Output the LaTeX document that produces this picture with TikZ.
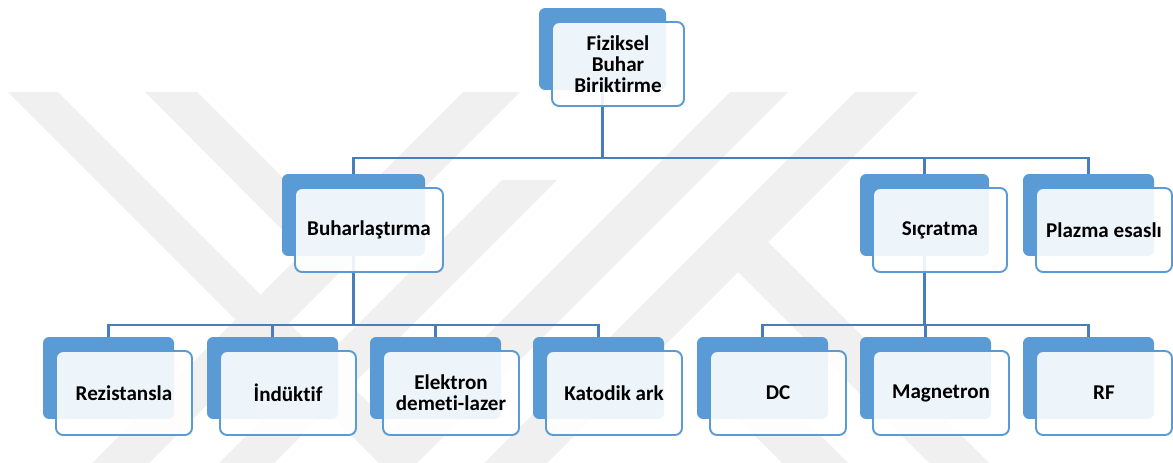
\documentclass[tikz,border=0pt]{standalone}
\usepackage{fontspec}
\setmainfont{Carlito}[Ligatures=NoCommon]
\definecolor{boxblue}{HTML}{5B9BD5}
\definecolor{linkblue}{HTML}{4A7EBB}
\definecolor{wmark}{HTML}{F0F0F0}
\pgfdeclarelayer{bg}
\pgfsetlayers{bg,main}
\begin{document}
\begin{tikzpicture}[x=0.02cm, y=-0.02cm, line join=round,
 backbox/.style={fill=boxblue, rounded corners=3.5pt, minimum height=1.64cm, inner sep=0pt},
 frontbox/.style={draw=boxblue, line width=1.1pt, fill=white, fill opacity=0.9, text opacity=1, rounded corners=4pt, minimum height=1.68cm, inner sep=1pt, align=center, font=\fontsize{12}{12}\selectfont\bfseries},
 link/.style={draw=linkblue, line width=1.25pt},
 wm/.style={fill=wmark}]
 \useasboundingbox (0,0) rectangle (1173,463);
 % front box centres and widths, the back box sits up and to the left
 \foreach \nm/\x/\y/\w/\txt in {fbb/618/64/132/{Fiziksel\\Buhar\\Biriktirme},
  buh/369/230/148/Buharlaştırma, sic/940/230/134/Sıçratma, plz/1104/230/136/Plazma esaslı,
  rez/124/393/136/Rezistansla, ind/288/393/136/İndüktif, ele/451/393/136/{Elektron\\demeti-lazer},
  kat/614/393/136/Katodik ark, dc/778/393/136/DC, mag/941/393/136/Magnetron, rf/1104/393/136/RF}
 {\node[backbox, minimum width=(\w-5)*0.02cm] (\nm-b) at (\x-15.5,\y-15) {};
  \node[frontbox, minimum width=\w*0.02cm] (\nm) at (\x,\y) {\txt};}
 \begin{pgfonlayer}{bg}
 \begin{scope}
 \clip (0,0) rectangle (1173,463);
 \fill[wm] (8,92) -- (58,92) -- (394,428) -- (730,92) -- (788,92) -- (398,482) -- cycle;
 \fill[wm] (145,92) -- (197,92) -- (330,225) -- (332,280) -- cycle;
 \fill[wm] (463,92) -- (520,92) -- (149,463) -- (92,463) -- cycle;
 \fill[wm] (502,180) -- (557,180) -- (274,463) -- (219,463) -- cycle;
 \fill[wm] (855,92) -- (918,92) -- (547,463) -- (484,463) -- cycle;
 \fill[wm] (756,230) -- (989,463) -- (929,463) -- (726,260) -- cycle;
 \fill[wm] (735,350) -- (848,463) -- (782,463) -- (702,383) -- cycle;
 \end{scope}
 \draw[link] (fbb-b.south) -- ++(0,68) coordinate (j1);
 \draw[link] (buh-b.north) |- (j1) -| (plz-b.north);
 \draw[link] (sic-b.north) -- (sic-b.north |- j1);
 \draw[link] (buh-b.south) -- ++(0,69) coordinate (j2);
 \draw[link] (rez-b.north) |- (j2) -| (kat-b.north);
 \foreach \nm in {ind,ele}
 \draw[link] (\nm-b.north) -- (\nm-b.north |- j2);
 \draw[link] (sic-b.south) -- ++(0,69) coordinate (j3);
 \draw[link] (dc-b.north) |- (j3) -| (rf-b.north);
 \draw[link] (mag-b.north) -- (mag-b.north |- j3);
 \end{pgfonlayer}
\end{tikzpicture}
\end{document}
